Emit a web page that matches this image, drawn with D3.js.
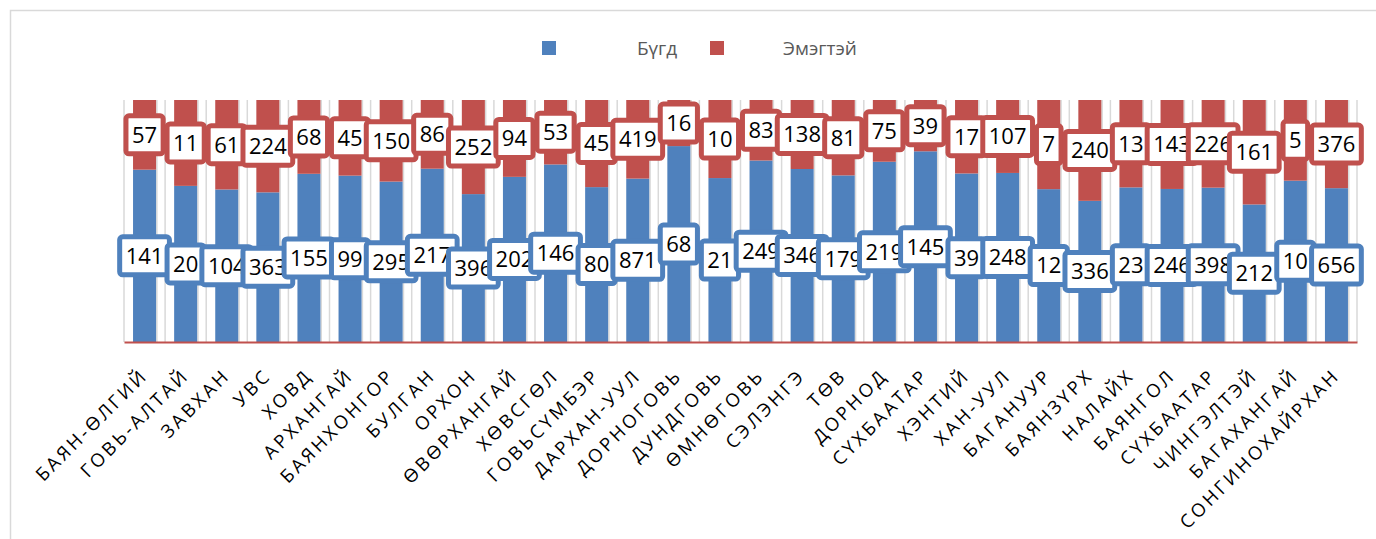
<!DOCTYPE html>
<meta charset="utf-8">
<script src="https://d3js.org/d3.v7.min.js"></script>
<style>
  body { margin: 0; background: #fff; }
</style>
<div id="chart"></div>
<script>

  // aimags / districts
  var categories = ["БАЯН-ӨЛГИЙ", "ГОВЬ-АЛТАЙ", "ЗАВХАН", "УВС", "ХОВД", "АРХАНГАЙ",
    "БАЯНХОНГОР", "БУЛГАН", "ОРХОН", "ӨВӨРХАНГАЙ", "ХӨВСГӨЛ", "ГОВЬСҮМБЭР",
    "ДАРХАН-УУЛ", "ДОРНОГОВЬ", "ДУНДГОВЬ", "ӨМНӨГОВЬ", "СЭЛЭНГЭ", "ТӨВ",
    "ДОРНОД", "СҮХБААТАР", "ХЭНТИЙ", "ХАН-УУЛ", "БАГАНУУР", "БАЯНЗҮРХ",
    "НАЛАЙХ", "БАЯНГОЛ", "СҮХБААТАР ", "ЧИНГЭЛТЭЙ", "БАГАХАНГАЙ", "СОНГИНОХАЙРХАН"];

  var bugd = [141, 20, 104, 363, 155, 99, 295, 217, 396, 202, 146, 80, 871, 68, 21,
    249, 346, 179, 219, 145, 39, 248, 12, 336, 23, 246, 398, 212, 10, 656];

  var emegtei = [57, 11, 61, 224, 68, 45, 150, 86, 252, 94, 53, 45, 419, 16, 10,
    83, 138, 81, 75, 39, 17, 107, 7, 240, 13, 143, 226, 161, 5, 376];

  var seriesNames = ["Бүгд", "Эмэгтэй"];
  var colors = ["#4F81BD", "#C0504D"];

  var W = 1376, H = 539;
  var plot = {left: 124, right: 1357, top: 100, bottom: 342};

  var svg = d3.select("#chart").append("svg")
    .attr("width", W)
    .attr("height", H)
    .style("font-family", "'Open Sans', sans-serif");

  // outer chart border
  svg.append("rect")
    .attr("x", 10.5).attr("y", 10.5)
    .attr("width", W).attr("height", H)
    .attr("fill", "none")
    .attr("stroke", "#D9D9D9")
    .attr("stroke-width", 1.5);

  var rows = categories.map(function(c, i) {
    var total = bugd[i] + emegtei[i];
    return {id: c, a: bugd[i], b: emegtei[i], fa: bugd[i] / total};
  });

  var x = d3.scaleBand()
    .domain(categories)
    .range([plot.left, plot.right])
    .paddingInner(0.44)
    .paddingOuter(0.22);

  var y = d3.scaleLinear()
    .domain([0, 1])
    .range([plot.bottom, plot.top]);

  // vertical gridlines
  var step = x.step();
  var grid = svg.append("g");
  d3.range(categories.length + 1).forEach(function(i) {
    var gx = plot.left + i * step;
    grid.append("line")
      .attr("x1", gx).attr("x2", gx)
      .attr("y1", plot.top).attr("y2", plot.bottom)
      .attr("stroke", "#D9D9D9").attr("stroke-width", 1.5);
    if (i > 0) {
      grid.append("line")
        .attr("x1", gx - step * 0.2).attr("x2", gx - step * 0.2)
        .attr("y1", plot.top).attr("y2", plot.bottom)
        .attr("stroke", "#D9D9D9").attr("stroke-width", 1.5);
    }
  });

  // stacked bars (100%)
  var bars = svg.append("g");
  bars.selectAll(".blue")
    .data(rows)
    .enter()
    .append("rect")
      .attr("x", function(d) { return x(d.id); })
      .attr("y", function(d) { return y(d.fa); })
      .attr("width", x.bandwidth())
      .attr("height", function(d) { return y(0) - y(d.fa); })
      .attr("fill", colors[0]);

  bars.selectAll(".red")
    .data(rows)
    .enter()
    .append("rect")
      .attr("x", function(d) { return x(d.id); })
      .attr("y", y(1))
      .attr("width", x.bandwidth())
      .attr("height", function(d) { return y(d.fa) - y(1); })
      .attr("fill", colors[1]);

  // x axis
  var xAxis = svg.append("g")
    .attr("transform", "translate(0," + plot.bottom + ")")
    .call(d3.axisBottom(x).tickSize(0).tickFormat(function(d) { return d.trim(); }));
  xAxis.select(".domain")
    .attr("stroke", "#C0504D")
    .attr("stroke-width", 2);
  xAxis.selectAll("text")
    .attr("font-family", "'Open Sans', sans-serif")
    .attr("font-size", 18.5)
    .attr("letter-spacing", 3)
    .attr("fill", "#000")
    .attr("text-anchor", "end")
    .attr("y", 0)
    .attr("dy", "0.35em")
    .attr("transform", "translate(0,30) rotate(-45)");

  // data labels
  function addLabel(g, cx, cy, val, col) {
    var lg = g.append("g");
    var t = lg.append("text")
      .attr("x", cx).attr("y", cy)
      .attr("dy", "0.36em")
      .attr("text-anchor", "middle")
      .attr("font-size", 22)
      .attr("fill", "#000")
      .text(val);
    var tw = t.node().getComputedTextLength();
    lg.insert("rect", "text")
      .attr("x", cx - tw / 2 - 6)
      .attr("y", cy - 19)
      .attr("width", tw + 12)
      .attr("height", 38)
      .attr("rx", 3)
      .attr("fill", "#fff")
      .attr("stroke", col)
      .attr("stroke-width", 5);
  }

  var labels = svg.append("g");
  rows.forEach(function(d) {
    var cx = x(d.id) + x.bandwidth() / 2;
    addLabel(labels, cx, y(d.fa / 2), d.a, colors[0]);
  });
  rows.forEach(function(d) {
    var cx = x(d.id) + x.bandwidth() / 2;
    addLabel(labels, cx, y(d.fa + (1 - d.fa) / 2), d.b, colors[1]);
  });

  // legend
  var legend = svg.append("g");
  var legX = [542, 710], legTextX = [637, 783];
  seriesNames.forEach(function(s, i) {
    legend.append("rect")
      .attr("x", legX[i]).attr("y", 41)
      .attr("width", 14).attr("height", 14)
      .attr("fill", colors[i]);
    legend.append("text")
      .attr("x", legTextX[i]).attr("y", 48)
      .attr("dy", "0.35em")
      .attr("font-size", 19)
      .attr("fill", "#595959")
      .text(s);
  });
</script>
